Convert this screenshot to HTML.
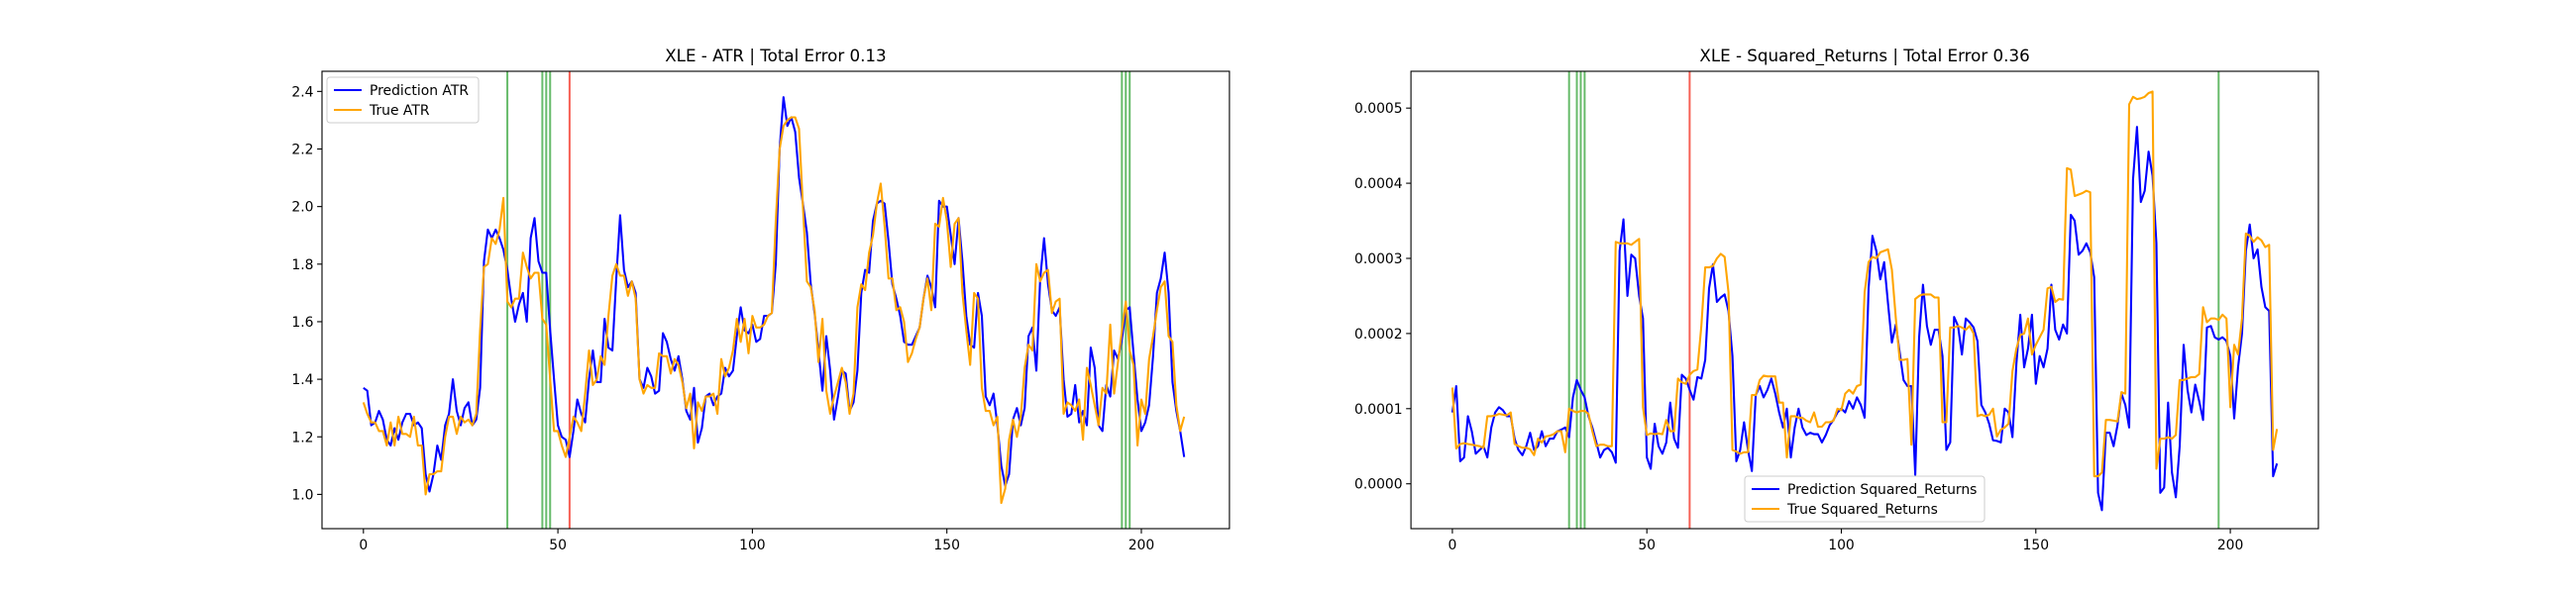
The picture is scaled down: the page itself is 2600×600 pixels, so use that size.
<!DOCTYPE html>
<html><head><meta charset="utf-8"><style>
body{margin:0;background:#fff;width:2600px;height:600px;overflow:hidden}
svg{display:block;font-family:"DejaVu Sans","Liberation Sans",sans-serif}
</style></head><body>
<svg id="fig" width="2600" height="600"></svg>
<script>
const xTicks=[0,50,100,150,200];
const atrPred=[1.37,1.36,1.24,1.25,1.29,1.26,1.19,1.17,1.23,1.19,1.25,1.28,1.28,1.24,1.25,1.23,1.07,1.01,1.07,1.17,1.12,1.24,1.28,1.40,1.29,1.24,1.30,1.32,1.24,1.26,1.37,1.81,1.92,1.89,1.92,1.89,1.85,1.78,1.68,1.60,1.66,1.70,1.60,1.89,1.96,1.81,1.77,1.77,1.57,1.40,1.24,1.20,1.19,1.13,
1.22,1.33,1.28,1.25,1.40,1.50,1.39,1.39,1.61,1.51,1.50,1.75,1.97,1.78,1.72,1.74,1.70,
1.40,1.37,1.44,1.41,1.35,1.36,1.56,1.53,1.47,1.43,1.48,1.40,1.29,1.26,1.37,1.18,1.23,1.34,1.35,1.31,1.34,1.35,1.44,1.41,1.43,1.55,1.65,1.57,1.56,1.59,1.53,1.54,1.62,
1.62,1.63,1.80,2.20,
2.38,2.28,2.31,2.26,2.10,2.01,1.91,1.73,1.63,1.50,1.36,1.55,1.43,1.26,1.34,1.43,1.42,1.29,1.32,1.43,1.70,1.78,1.77,1.95,2.01,2.02,2.01,1.88,1.73,1.68,1.62,1.53,1.52,1.52,1.55,1.58,1.68,1.76,1.72,1.65,2.02,2.00,2.00,1.90,1.80,1.96,1.81,1.62,1.52,1.51,1.70,1.62,1.34,
1.31,1.35,1.24,1.10,1.03,1.07,1.26,1.30,1.24,1.30,1.55,1.58,1.43,1.75,1.89,1.73,1.64,1.62,1.65,1.40,1.27,1.28,1.38,1.25,1.29,1.24,1.51,1.44,1.24,1.22,1.38,1.34,1.50,1.47,1.54,1.64,1.65,1.49,1.33,1.22,1.25,1.31,1.48,1.70,1.75,1.84,1.70,1.39,1.29,1.22,1.13];
const atrTrue=[1.32,1.28,1.25,1.25,1.22,1.22,1.17,1.25,1.17,1.27,1.21,1.21,1.20,1.27,1.17,1.17,1.00,1.07,1.07,1.08,1.08,1.20,1.27,1.27,1.21,1.27,1.25,1.26,1.24,1.28,1.57,1.79,1.80,1.89,1.87,1.92,2.03,1.67,1.65,1.68,1.68,1.84,1.79,1.75,1.77,1.77,1.61,1.59,1.40,1.22,1.22,1.17,1.13,1.20,
1.27,1.25,1.22,1.35,1.50,1.38,1.40,1.48,1.45,1.62,1.76,1.80,1.76,1.76,1.69,1.74,1.68,1.40,1.35,1.38,1.37,1.37,1.49,1.48,1.48,1.42,1.47,1.45,1.39,1.30,1.35,1.16,1.32,1.29,1.34,1.34,1.35,1.28,1.47,1.41,1.44,1.50,1.61,1.53,1.61,1.49,1.62,1.58,1.58,1.59,1.62,1.63,1.95,2.20,
2.28,2.30,2.31,2.31,2.27,2.0,1.74,1.72,1.64,1.46,1.61,1.36,1.28,1.34,1.39,1.44,1.39,1.28,1.35,1.65,1.73,1.71,1.84,1.90,2.01,2.08,1.93,1.75,1.75,1.64,1.65,1.60,1.46,1.49,1.54,1.58,1.68,1.75,1.64,1.94,1.93,2.03,1.95,1.79,1.94,1.96,1.70,1.57,1.45,1.70,1.68,1.37,1.29,
1.29,1.24,1.27,0.97,1.02,1.19,1.26,1.20,1.27,1.44,1.52,1.50,1.80,1.74,1.77,1.78,1.63,1.67,1.68,1.28,1.32,1.31,1.29,1.33,1.19,1.44,1.38,1.31,1.24,1.37,1.35,1.59,1.35,1.46,1.57,1.67,1.50,1.45,1.17,1.33,1.28,1.47,1.55,1.64,1.72,1.74,1.55,1.53,1.31,1.22,1.27];
const atrYTicks=[1.0,1.2,1.4,1.6,1.8,2.0,2.2,2.4];
const atrGreen=[37,46,47,48,195,196,197];
const atrRed=[53];
const srPred=[0.95,1.3,0.3,0.35,0.9,0.7,0.4,0.45,0.5,0.35,0.75,0.95,1.02,0.98,0.9,0.9,0.6,0.45,0.38,0.5,0.68,0.45,0.5,0.7,0.5,0.6,0.6,0.7,0.72,0.75,0.62,1.15,1.38,1.25,1.15,0.9,0.75,0.55,0.35,0.45,0.48,0.42,0.28,3.1,3.52,2.5,3.05,3.0,2.5,2.2,0.35,0.2,0.8,0.5,0.4,0.55,1.08,0.6,0.48,1.45,1.4,1.25,1.12,1.42,1.4,1.65,2.6,2.92,2.42,2.48,2.52,2.3,1.7,0.3,0.45,0.82,0.45,0.17,1.18,1.3,1.15,1.25,1.4,1.2,0.95,0.75,1.0,0.35,0.75,1.0,0.75,0.65,0.68,0.66,0.66,0.55,0.65,0.78,0.85,0.95,1.0,0.95,1.1,1.0,1.15,1.05,0.88,2.6,3.3,3.1,2.72,2.95,2.4,1.88,2.12,1.75,1.38,1.3,1.3,0.12,1.95,2.65,2.1,1.85,2.05,2.05,1.7,0.45,0.55,2.22,2.1,1.72,2.2,2.15,2.08,1.9,1.05,0.95,0.8,0.58,0.57,0.55,1.0,0.95,0.62,1.6,2.25,1.55,1.8,2.25,1.33,1.7,1.55,1.8,2.65,2.05,1.92,2.12,2.0,3.58,3.5,3.05,3.1,3.2,3.08,2.75,-0.12,-0.35,0.68,0.68,0.5,0.78,1.2,1.05,0.75,4.05,4.75,3.75,3.9,4.42,4.1,3.2,-0.12,-0.05,1.08,0.15,-0.18,0.5,1.85,1.25,0.95,1.32,1.1,0.85,2.08,2.1,1.95,1.92,1.95,1.9,1.7,0.87,1.55,2.0,3.1,3.45,3.0,3.12,2.62,2.35,2.3,0.1,0.27];
const srTrue=[1.28,0.47,0.53,0.54,0.53,0.52,0.51,0.50,0.48,0.9,0.9,0.91,0.93,0.92,0.91,0.95,0.53,0.50,0.48,0.48,0.46,0.38,0.6,0.55,0.63,0.64,0.66,0.7,0.7,0.42,1.0,0.97,0.95,0.97,0.97,0.93,0.7,0.5,0.52,0.52,0.5,0.5,3.22,3.2,3.2,3.2,3.18,3.22,3.26,1.02,0.65,0.67,0.66,0.67,0.66,0.85,0.7,0.7,1.4,1.35,1.33,1.45,1.5,1.52,2.1,2.88,2.88,2.9,3.0,3.06,3.02,2.55,0.45,0.43,0.4,0.42,0.42,1.18,1.18,1.38,1.44,1.43,1.43,1.43,1.08,1.08,0.35,0.9,0.9,0.88,0.88,0.84,0.82,0.95,0.76,0.76,0.82,0.82,0.84,1.0,0.98,1.2,1.25,1.2,1.3,1.32,2.55,2.95,3.02,3.0,3.08,3.1,3.12,2.85,2.2,1.65,1.65,1.66,0.52,2.46,2.5,2.52,2.52,2.52,2.48,2.48,0.82,0.82,2.08,2.08,2.1,2.08,2.05,2.1,2.0,0.9,0.92,0.9,0.92,1.0,0.63,0.72,0.75,0.8,1.5,1.8,1.98,2.0,2.2,1.72,1.85,1.95,2.05,2.6,2.62,2.42,2.46,2.45,4.2,4.18,3.83,3.85,3.87,3.9,3.88,0.1,0.1,0.15,0.85,0.85,0.84,0.83,1.22,1.2,5.05,5.15,5.12,5.13,5.15,5.2,5.22,0.2,0.6,0.6,0.62,0.6,0.65,1.38,1.38,1.4,1.42,1.42,1.46,2.35,2.15,2.2,2.2,2.18,2.25,2.2,1.02,1.85,1.72,2.2,3.33,3.3,3.22,3.28,3.24,3.15,3.18,0.45,0.73];
const srYTicks=[0,1,2,3,4,5];
const srYLabels=["0.0000","0.0001","0.0002","0.0003","0.0004","0.0005"];
const srGreen=[30,32,33,34,197];
const srRed=[61];

const NS="http://www.w3.org/2000/svg";
const svg=document.getElementById('fig');
function mk(tag,attrs,parent,txt){const e=document.createElementNS(NS,tag);for(const k in attrs)e.setAttribute(k,attrs[k]);if(txt!==undefined)e.textContent=txt;(parent||svg).appendChild(e);return e;}

function panel(o){
  const g=mk('g',{});
  
  
  const L=o.left,R=o.left+915.9,T=72,B=534;
  const xs=v=>L+(v-(-10.65))/(233.3)*(R-L);
  const ys=v=>B-(v-o.ymin)/(o.ymax-o.ymin)*(B-T);
  const t=mk('text',{x:(L+R)/2,y:62,'text-anchor':'middle','font-size':'16.7px',fill:'#000'},g,o.title);
  
  
  o.vg.forEach(v=>{const l=mk('line',{x1:xs(v),x2:xs(v),y1:T,y2:B,stroke:'#4caf50','stroke-opacity':0.85,'stroke-width':2},g);
    
    });
  o.vr.forEach(v=>{const l=mk('line',{x1:xs(v),x2:xs(v),y1:T,y2:B,stroke:'#f44336','stroke-opacity':0.85,'stroke-width':2},g);
    
    });
  const line=(arr,col,nm)=>{const p=mk('polyline',{points:arr.map((v,i)=>xs(i).toFixed(1)+','+ys(v).toFixed(1)).join(' '),fill:'none',stroke:col,'stroke-width':2.08,'stroke-linejoin':'round'},g);
    
    };
  line(o.pred,'#0000ff','prediction-line');
  line(o.tru,'#ffa500','true-line');
  const fr=mk('rect',{x:L,y:T,width:R-L,height:B-T,fill:'none',stroke:'#000','stroke-width':1.1},g);
  
  
  xTicks.forEach(v=>{const x=xs(v);mk('line',{x1:x,x2:x,y1:B,y2:B+4.9,stroke:'#000','stroke-width':1.1},g);
    const tx=mk('text',{x:x,y:B+21,'text-anchor':'middle','font-size':'13.9px'},g,String(v));
    
    });
  o.yt.forEach((v,i)=>{const y=ys(v);mk('line',{x1:L-4.9,x2:L,y1:y,y2:y,stroke:'#000','stroke-width':1.1},g);
    const tx=mk('text',{x:L-8.5,y:y+5,'text-anchor':'end','font-size':'13.9px'},g,o.yl[i]);
    
    });
  const lg=mk('g',{},g);
  
  
  const lx=o.lg[0],ly=o.lg[1];
  mk('rect',{x:lx,y:ly,width:o.lg[2],height:46,rx:3,fill:'#fff','fill-opacity':0.8,stroke:'#ccc'},lg);
  [[o.pl,'#0000ff'],[o.tl,'#ffa500']].forEach((e,i)=>{const yy=ly+13+i*20;
    mk('line',{x1:lx+7,x2:lx+35,y1:yy,y2:yy,stroke:e[1],'stroke-width':2.08},lg);
    const tx=mk('text',{x:lx+43,y:yy+5,'font-size':'13.9px'},lg,e[0]);
    
    });
}
panel({name:'atr-chart',left:325,ymin:0.881,ymax:2.47,title:'XLE - ATR | Total Error 0.13',pred:atrPred,tru:atrTrue,
  yt:atrYTicks,yl:atrYTicks.map(v=>v.toFixed(1)),vg:atrGreen,vr:atrRed,lg:[330,78,153],pl:'Prediction ATR',tl:'True ATR'});
panel({name:'squared-returns-chart',left:1424.1,ymin:-0.597,ymax:5.49,title:'XLE - Squared_Returns | Total Error 0.36',pred:srPred,tru:srTrue,
  yt:srYTicks,yl:srYLabels,vg:srGreen,vr:srRed,lg:[1761,481,242],pl:'Prediction Squared_Returns',tl:'True Squared_Returns'});
</script>
</body></html>
